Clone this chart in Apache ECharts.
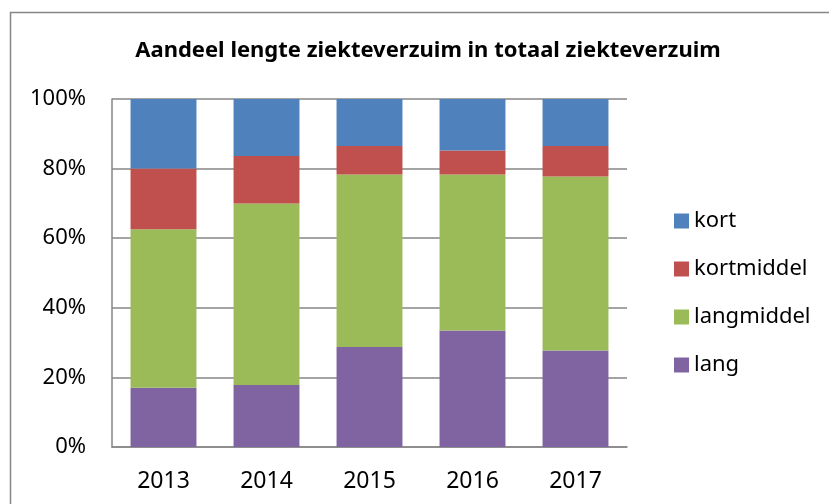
<!DOCTYPE html>
<html>
<head>
<meta charset="utf-8">
<script src="https://cdn.jsdelivr.net/npm/echarts@6/dist/echarts.min.js"></script>
<style>
  html, body { margin: 0; padding: 0; background: #fff; }
  #main { width: 829px; height: 504px; }
</style>
</head>
<body>
<div id="main"></div>
<script>
// jaren
const years = ['2013', '2014', '2015', '2016', '2017']
const lang = [17.0, 17.8, 28.7, 33.5, 27.7]
const langmiddel = [45.6, 52.2, 49.6, 44.8, 50.0]
const kortmiddel = [17.4, 13.6, 8.2, 6.9, 8.8]
const kort = [20.0, 16.4, 13.5, 14.8, 13.5]
const legendOrder = ['kort', 'kortmiddel', 'langmiddel', 'lang']

const font = 'Noto Sans'
const chart = echarts.init(document.getElementById('main'))

function bar(name, data, color) {
  return {
    name,
    type: 'bar',
    stack: 'total',
    data,
    barWidth: '64%',
    itemStyle: { color },
  }
}

chart.setOption({
  animation: false,
  graphic: [{
    type: 'rect',
    shape: { x: 10.5, y: 12.5, width: 840, height: 520 },
    style: { fill: 'none', stroke: '#868686', lineWidth: 1.5 },
    silent: true,
  }],
  title: {
    text: 'Aandeel lengte ziekteverzuim in totaal ziekteverzuim',
    left: 423,
    top: 35,
    textAlign: 'center',
    textStyle: { fontFamily: font, fontWeight: 'bold', fontSize: 22, color: '#000' },
  },
  grid: { left: 112, right: 202, top: 99, bottom: 57 },
  legend: {
    data: legendOrder,
    orient: 'vertical',
    left: 669,
    top: 205,
    itemWidth: 15,
    itemHeight: 15,
    itemGap: 26,
    icon: 'rect',
    textStyle: { fontFamily: font, fontSize: 22, lineHeight: 22, color: '#000' },
  },
  xAxis: {
    type: 'category',
    data: years,
    axisLine: { lineStyle: { color: '#868686', width: 1.5 } },
    axisTick: { show: false },
    axisLabel: { fontFamily: font, fontSize: 23, color: '#000', margin: 23 },
  },
  yAxis: {
    type: 'value',
    min: 0,
    max: 100,
    interval: 20,
    axisLine: { show: true, lineStyle: { color: '#868686', width: 1.5 } },
    axisTick: { show: false },
    splitLine: { lineStyle: { color: '#868686', width: 1.5 } },
    axisLabel: { fontFamily: font, fontSize: 22, color: '#000', margin: 26, formatter: '{value}%' },
  },
  series: [
    bar('lang', lang, '#8064A2'),
    bar('langmiddel', langmiddel, '#9BBB59'),
    bar('kortmiddel', kortmiddel, '#C0504D'),
    bar('kort', kort, '#4F81BD'),
  ],
})
</script>
</body>
</html>
